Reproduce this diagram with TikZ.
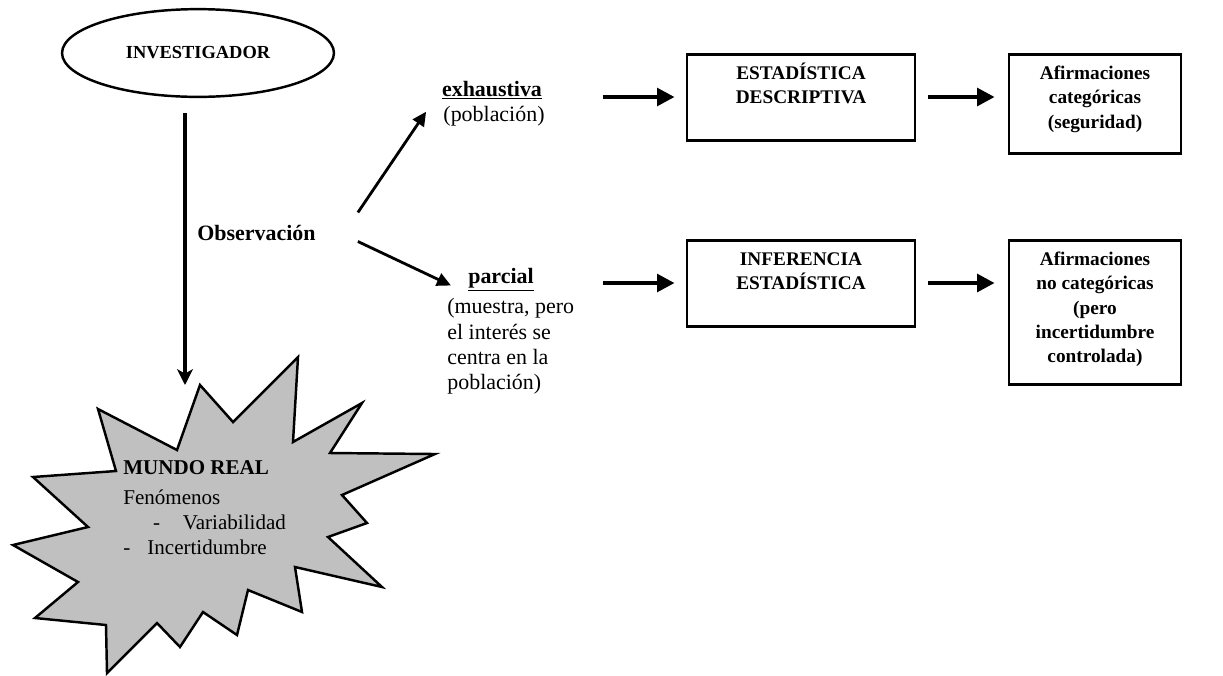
\documentclass[tikz,border=0pt]{standalone}
\usepackage{fontspec}
\setmainfont{Liberation Serif}
\usepackage{tikz}
\usetikzlibrary{calc,shapes,positioning}
\usetikzlibrary{arrows.meta}

\begin{document}
\fontsize{12.5}{14.5}\selectfont
\begin{tikzpicture}[x=0.57pt,y=-0.57pt]
  \useasboundingbox (0,0) rectangle (1223,675);

  \tikzstyle{onode} = [draw=black, line width=1.4pt, ellipse, minimum width=155pt, minimum height=50pt, inner sep=0pt, font=\fontsize{10.5}{12}\selectfont\bfseries]
  \tikzstyle{bnode} = [draw=black, line width=1.6pt, rectangle, align=center, anchor=north, inner ysep=6pt, font=\fontsize{11}{13.9}\selectfont\bfseries]
  \tikzstyle{tnode} = [inner sep=0pt]
  \tikzstyle{snode} = [draw=black, line width=1.4pt, fill={rgb,255:red,192;green,192;blue,192}, line join=miter]
  \tikzstyle{harrow} = [line width=2.3pt, -{Triangle[length=10pt,width=10pt]}]
  \tikzstyle{darrow} = [line width=1.6pt, -{Triangle[length=8pt,width=7.5pt]}]
  \tikzstyle{varrow} = [line width=1.9pt, -{Stealth[length=9pt,width=9pt,inset=2.5pt]}]

  % investigador y observacion
  \node[onode] (inv) at (198,53) {INVESTIGADOR};
  \node[tnode, anchor=base west, font=\bfseries] (obs) at (197,240) {Observación};

  % mundo real
  \draw[snode] (200,385) -- (233,422) -- (298,357) -- (293,442) -- (362,403) -- (330,453)
    -- (435,454) -- (342,495) -- (367,523) -- (328,537) -- (382,587) -- (295,567)
    -- (302,612) -- (248,590) -- (237,635) -- (203,612) -- (180,647) -- (157,623)
    -- (107,673) -- (106,625) -- (35,618) -- (78,582) -- (13,545) -- (88,527)
    -- (33,477) -- (116,471) -- (98,409) -- (177,450) -- cycle;
  \coordinate (mundo) at (185,385);
  \node[tnode, anchor=north west, align=left, font=\fontsize{12}{14.2}\selectfont] (real) at (123,460)
    {\textbf{MUNDO REAL}\\[3pt]
     Fenómenos\\
     \hspace*{17pt}\makebox[17pt][l]{-}Variabilidad\\
     \makebox[13.7pt][l]{-}Incertidumbre};

  % tipos de observacion
  \node[tnode, anchor=base] (exh) at (492,96) {\underline{\textbf{exhaustiva}}};
  \node[tnode, anchor=base] (pobl) at (494,121) {(población)};
  \node[tnode, anchor=base] (parc) at (501,283) {\underline{\textbf{parcial}}};
  \node[tnode, anchor=north west, align=left] (parcTxt) at (447,298)
    {(muestra, pero\\el interés se\\centra en la\\población)};

  % cajas
  \node[bnode, minimum width=130pt, text height=22.1pt, text depth=14.9pt] (desc) at (801,53) {ESTADÍSTICA\\DESCRIPTIVA};
  \node[bnode, minimum width=130pt, text height=22.1pt, text depth=14.9pt] (infer) at (801,239) {INFERENCIA\\ESTADÍSTICA};
  \node[bnode, minimum width=98pt, text height=36pt, text depth=8.5pt] (afirmA) at (1095,53) {Afirmaciones\\categóricas\\(seguridad)};
  \node[bnode, minimum width=98pt, text height=63.8pt, text depth=6.4pt] (afirmB) at (1095,239) {Afirmaciones\\no categóricas\\(pero\\incertidumbre\\controlada)};

  % flechas
  \draw[varrow] ($(inv.south)+(-13,15)$) -- (mundo);
  \draw[darrow] ($(obs.east)+(42,-20)$) -- ($(pobl.west)+(-17,-4)$);
  \draw[darrow] ($(obs.east)+(42,9)$) -- ($(parc.west)+(-17,6)$);
  \draw[harrow] ($(desc.north west)+(-83,44)$) -- ($(desc.north west)+(-11,44)$);
  \draw[harrow] ($(infer.north west)+(-83,44)$) -- ($(infer.north west)+(-11,44)$);
  \draw[harrow] ($(desc.north east)+(12,44)$) -- ($(afirmA.north west)+(-13,44)$);
  \draw[harrow] ($(infer.north east)+(12,44)$) -- ($(afirmB.north west)+(-13,44)$);
\end{tikzpicture}
\end{document}
